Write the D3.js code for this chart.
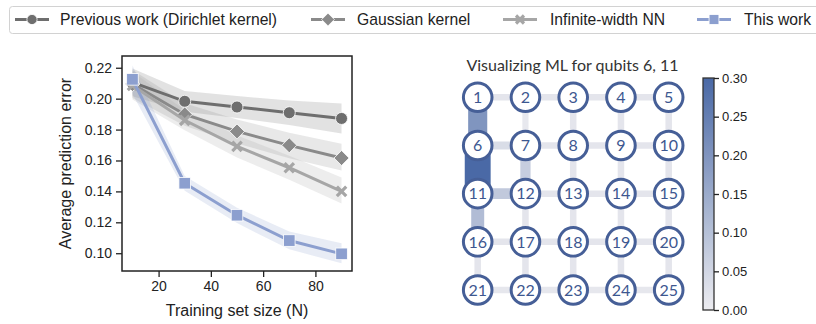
<!DOCTYPE html>
<html>
<head>
<meta charset="utf-8">
<script src="https://cdn.jsdelivr.net/npm/d3@7"></script>
<style>
  body { margin: 0; background: #fff; }
  svg { display: block; }
</style>
</head>
<body>
<script>
"use strict";

// ---- data ----
var sizes = [10, 30, 50, 70, 90];
var seriesNames = ["Previous work (Dirichlet kernel)", "Gaussian kernel", "Infinite-width NN", "This work"];
var dirichletMean = [0.2105, 0.1983, 0.1946, 0.1909, 0.1872];
var dirichletLo   = [0.2015, 0.1915, 0.1875, 0.1830, 0.1775];
var dirichletHi   = [0.2195, 0.2050, 0.2017, 0.1988, 0.1968];
var gaussianMean  = [0.2095, 0.1898, 0.1788, 0.1698, 0.1616];
var gaussianLo    = [0.2005, 0.1825, 0.1710, 0.1615, 0.1536];
var gaussianHi    = [0.2185, 0.1970, 0.1865, 0.1780, 0.1709];
var nnMean        = [0.2085, 0.1860, 0.1691, 0.1553, 0.1400];
var nnLo          = [0.1995, 0.1795, 0.1620, 0.1475, 0.1322];
var nnHi          = [0.2175, 0.1925, 0.1762, 0.1630, 0.1490];
var oursMean      = [0.2125, 0.1453, 0.1246, 0.1082, 0.0996];
var oursLo        = [0.2030, 0.1405, 0.1195, 0.1025, 0.0935];
var oursHi        = [0.2215, 0.1500, 0.1295, 0.1140, 0.1065];
var yTicks = [0.10, 0.12, 0.14, 0.16, 0.18, 0.20, 0.22];
var xTicks = [20, 40, 60, 80];

// qubit grid: horizontal edges (5 rows x 4), vertical edges (4 rows x 5)
var qubitLabels = d3.range(1, 26);
var hEdges = [
  [0.015, 0.015, 0.015, 0.015],
  [0.035, 0.015, 0.015, 0.015],
  [0.08, 0.015, 0.015, 0.015],
  [0.015, 0.015, 0.015, 0.015],
  [0.012, 0.012, 0.012, 0.012]
];
var vEdges = [
  [0.20, 0.01, 0.015, 0.015, 0.015],
  [0.30, 0.07, 0.015, 0.015, 0.015],
  [0.11, 0.015, 0.015, 0.015, 0.015],
  [0.015, 0.015, 0.015, 0.015, 0.015]
];
var cbTicks = [0.00, 0.05, 0.10, 0.15, 0.20, 0.25, 0.30];

var W = 816, H = 324;
var svg = d3.select("body").append("svg").attr("width", W).attr("height", H);

/*
  line chart
*/
var series = [
  {name: seriesNames[0], mean: dirichletMean, lo: dirichletLo, hi: dirichletHi, color: "#6e6e6e", marker: "circle"},
  {name: seriesNames[1], mean: gaussianMean, lo: gaussianLo, hi: gaussianHi, color: "#8a8a8a", marker: "diamond"},
  {name: seriesNames[2], mean: nnMean, lo: nnLo, hi: nnHi, color: "#a6a6a6", marker: "x"},
  {name: seriesNames[3], mean: oursMean, lo: oursLo, hi: oursHi, color: "#8c9fcf", marker: "square"}
];

var x = d3.scaleLinear().domain([6, 94]).range([122, 352]);
var y = d3.scaleLinear().domain([0.0885, 0.2276]).range([271, 56]);

var chart = svg.append("g").attr("class", "chart")
  .style("font-family", "'Liberation Sans', Arial, sans-serif");

series.forEach(function (s) {
  var area = d3.area()
    .x(function (d, i) { return x(sizes[i]); })
    .y0(function (d, i) { return y(s.lo[i]); })
    .y1(function (d, i) { return y(s.hi[i]); });
  chart.append("path").datum(s.mean)
    .attr("d", area)
    .attr("fill", s.color)
    .attr("fill-opacity", 0.2);
});

function drawMarker(g, type, cx, cy, color, scale) {
  scale = scale || 1;
  if (type === "circle") {
    g.append("circle").attr("cx", cx).attr("cy", cy).attr("r", 6 * scale)
      .attr("fill", color).attr("stroke", "#fff").attr("stroke-width", 0.8);
  } else if (type === "diamond") {
    var r = 7.5 * scale;
    g.append("path")
      .attr("d", "M" + cx + "," + (cy - r) + "L" + (cx + r) + "," + cy + "L" + cx + "," + (cy + r) + "L" + (cx - r) + "," + cy + "Z")
      .attr("fill", color).attr("stroke", "#fff").attr("stroke-width", 0.8);
  } else if (type === "x") {
    var a = 4.7 * scale;
    g.append("path")
      .attr("d", "M" + (cx - a) + "," + (cy - a) + "L" + (cx + a) + "," + (cy + a) + "M" + (cx - a) + "," + (cy + a) + "L" + (cx + a) + "," + (cy - a))
      .attr("stroke", color).attr("stroke-width", 3.2).attr("fill", "none");
  } else {
    var h = 5.8 * scale;
    g.append("rect").attr("x", cx - h).attr("y", cy - h).attr("width", 2 * h).attr("height", 2 * h)
      .attr("fill", color).attr("stroke", "#fff").attr("stroke-width", 0.8);
  }
}

series.forEach(function (s) {
  var line = d3.line()
    .x(function (d, i) { return x(sizes[i]); })
    .y(function (d) { return y(d); });
  chart.append("path").datum(s.mean)
    .attr("d", line)
    .attr("fill", "none")
    .attr("stroke", s.color)
    .attr("stroke-width", 3);
  var mg = chart.append("g");
  s.mean.forEach(function (v, i) { drawMarker(mg, s.marker, x(sizes[i]), y(v), s.color); });
});

// frame
chart.append("rect")
  .attr("x", 122).attr("y", 56).attr("width", 230).attr("height", 215)
  .attr("fill", "none").attr("stroke", "#222").attr("stroke-width", 1.5);

var yAxis = chart.append("g").attr("transform", "translate(122,0)")
  .call(d3.axisLeft(y).tickValues(yTicks).tickFormat(d3.format(".2f")).tickSize(6).tickPadding(4));
var xAxis = chart.append("g").attr("transform", "translate(0,271)")
  .call(d3.axisBottom(x).tickValues(xTicks).tickSize(6).tickPadding(4));
[yAxis, xAxis].forEach(function (a) {
  a.select(".domain").remove();
  a.selectAll("line").attr("stroke", "#222").attr("stroke-width", 1.3);
  a.selectAll("text").attr("fill", "#222").style("font-size", "14px")
    .style("font-family", "'Liberation Sans', Arial, sans-serif");
});

chart.append("text")
  .attr("transform", "translate(67,163.5) rotate(-90)")
  .attr("text-anchor", "middle")
  .attr("dominant-baseline", "middle")
  .style("font-size", "16px").attr("fill", "#222")
  .text("Average prediction error");
chart.append("text")
  .attr("x", 237).attr("y", 316)
  .attr("text-anchor", "middle")
  .style("font-size", "16px").attr("fill", "#222")
  .text("Training set size (N)");

/*
  legend
*/
var legend = svg.append("g").style("font-family", "'Liberation Sans', Arial, sans-serif");
legend.append("rect")
  .attr("x", 9.5).attr("y", 6.5).attr("width", 830).attr("height", 27).attr("rx", 3)
  .attr("fill", "#fff").attr("stroke", "#d2d2d2");
var handleX = [15, 311, 503, 697];
var textX = [60, 357, 550, 744];
series.forEach(function (s, i) {
  var g = legend.append("g");
  g.append("line").attr("x1", handleX[i]).attr("x2", handleX[i] + 34)
    .attr("y1", 19.5).attr("y2", 19.5).attr("stroke", s.color).attr("stroke-width", 3);
  drawMarker(g, s.marker, handleX[i] + 17, 19.5, s.color, 0.85);
  g.append("text").attr("x", textX[i]).attr("y", 25)
    .style("font-size", "15.7px").attr("fill", "#222").text(s.name);
});

/*
  qubit grid heat map
*/
var color = d3.scaleLinear().domain([0, 0.3]).range(["#ececf0", "#4a69a6"]).interpolate(d3.interpolateRgb);
var gx = d3.scaleLinear().domain([0, 4]).range([477.7, 668.7]);
var gy = d3.scaleLinear().domain([0, 4]).range([97.3, 290]);
var widthOf = function (v) { return 5.5 + 68 * v; };

var grid = svg.append("g").style("font-family", "Lato, 'Open Sans', sans-serif");
grid.append("text").attr("x", 572.5).attr("y", 71).attr("text-anchor", "middle")
  .style("font-size", "16px").attr("fill", "#333")
  .text("Visualizing ML for qubits 6, 11");

var edges = [];
hEdges.forEach(function (row, r) {
  row.forEach(function (v, c) { edges.push({x1: gx(c), y1: gy(r), x2: gx(c + 1), y2: gy(r), v: v}); });
});
vEdges.forEach(function (row, r) {
  row.forEach(function (v, c) { edges.push({x1: gx(c), y1: gy(r), x2: gx(c), y2: gy(r + 1), v: v}); });
});
edges.sort(function (a, b) { return a.v - b.v; });
grid.selectAll("line.edge").data(edges).enter().append("line")
  .attr("class", "edge")
  .attr("x1", function (d) { return d.x1; }).attr("y1", function (d) { return d.y1; })
  .attr("x2", function (d) { return d.x2; }).attr("y2", function (d) { return d.y2; })
  .attr("stroke", function (d) { return color(d.v); })
  .attr("stroke-width", function (d) { return widthOf(d.v); });

var nodes = grid.selectAll("g.node").data(qubitLabels).enter().append("g")
  .attr("class", "node")
  .attr("transform", function (d, i) { return "translate(" + gx(i % 5) + "," + gy(Math.floor(i / 5)) + ")"; });
nodes.append("circle").attr("r", 14.3).attr("fill", "#fff")
  .attr("stroke", "#465f97").attr("stroke-width", 3);
nodes.append("text").attr("text-anchor", "middle").attr("dy", "0.36em")
  .style("font-size", "16px").attr("fill", "#3d5790")
  .text(function (d) { return d; });

// colour bar
var cbY = d3.scaleLinear().domain([0, 0.3]).range([310, 78]);
var defs = svg.append("defs");
var grad = defs.append("linearGradient").attr("id", "cbgrad")
  .attr("x1", 0).attr("y1", 1).attr("x2", 0).attr("y2", 0);
d3.range(0, 1.01, 0.1).forEach(function (t) {
  grad.append("stop").attr("offset", t).attr("stop-color", color(t * 0.3));
});
var cb = svg.append("g").style("font-family", "'Liberation Sans', Arial, sans-serif");
cb.append("rect").attr("x", 703).attr("y", cbY(0.3)).attr("width", 11).attr("height", cbY(0) - cbY(0.3))
  .attr("fill", "url(#cbgrad)").attr("stroke", "#333").attr("stroke-width", 1.3);
var cbAxis = cb.append("g").attr("transform", "translate(714,0)")
  .call(d3.axisRight(cbY).tickValues(cbTicks).tickFormat(d3.format(".2f")).tickSize(5).tickPadding(3));
cbAxis.select(".domain").remove();
cbAxis.selectAll("line").attr("stroke", "#222").attr("stroke-width", 1.3);
cbAxis.selectAll("text").attr("fill", "#222").style("font-size", "13px")
  .style("font-family", "'Liberation Sans', Arial, sans-serif");
</script>
</body>
</html>
